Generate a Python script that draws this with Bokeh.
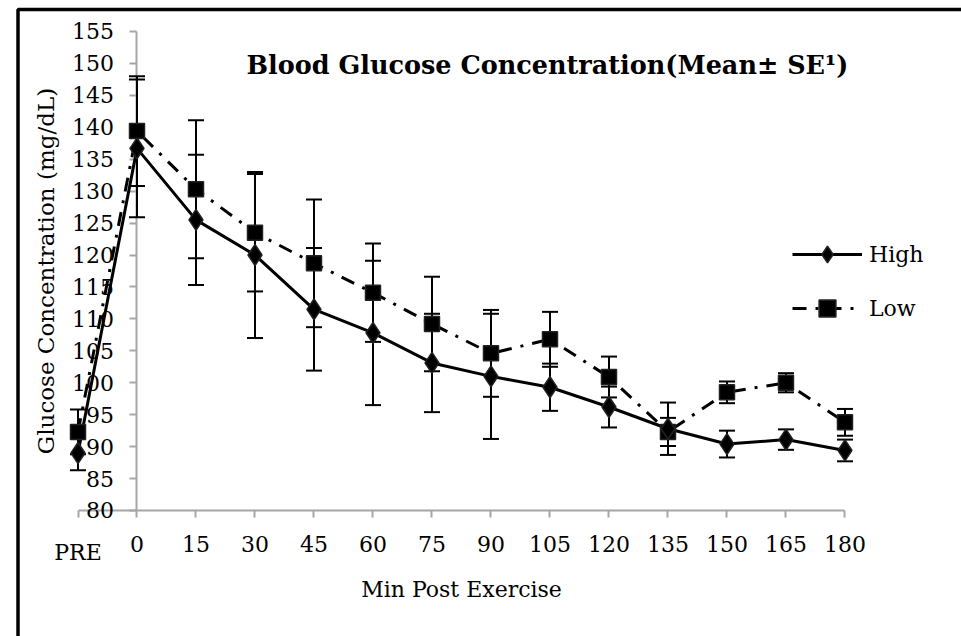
from bokeh.plotting import figure
from bokeh.models import (Range1d, FixedTicker, Whisker, TeeHead, ColumnDataSource,
                          Legend, LegendItem, Label, BoxAnnotation)
from bokeh.embed import file_html
from bokeh.resources import INLINE

# ---- data ----
categories = ["PRE", "0", "15", "30", "45", "60", "75", "90", "105", "120",
              "135", "150", "165", "180"]
high_mean = [89.0, 136.7, 125.5, 120.0, 111.5, 107.8, 103.1, 101.0, 99.3, 96.2,
             92.8, 90.4, 91.1, 89.4]
high_se = [2.7, 10.8, 10.2, 13.0, 9.6, 11.3, 7.7, 9.8, 3.7, 3.2,
           4.1, 2.1, 1.6, 1.7]
low_mean = [92.3, 139.4, 130.3, 123.5, 118.7, 114.1, 109.2, 104.6, 106.8, 100.9,
            92.3, 98.5, 100.0, 93.8]
low_se = [3.5, 8.6, 10.8, 9.2, 10.0, 7.7, 7.4, 6.8, 4.3, 3.2,
          2.2, 1.7, 1.5, 2.1]
y_ticks = list(range(80, 156, 5))

title_text = "Blood Glucose Concentration(Mean\u00b1 SE\u00b9)"
x_title = "Min Post Exercise"
y_title = "Glucose Concentration (mg/dL)"

FONT = "DejaVu Serif"
AXIS_GRAY = "#a6a6a6"

pos = list(range(len(categories)))

p = figure(width=961, height=636, output_backend="svg", toolbar_location=None,
           x_range=Range1d(-1.3136, 14.975), y_range=Range1d(60.27, 159.85),
           min_border=0)
p.outline_line_color = None
p.grid.visible = False
p.background_fill_color = "white"
p.border_fill_color = "white"

# black frame of the embedded chart object (left and top edges visible)
p.add_layout(BoxAnnotation(left=-1.0169, right=40, top=158.44, bottom=20,
                           fill_alpha=0, line_color="black", line_alpha=1,
                           line_width=3.5))

src_h = ColumnDataSource(dict(x=pos, y=high_mean,
                              lower=[m - s for m, s in zip(high_mean, high_se)],
                              upper=[m + s for m, s in zip(high_mean, high_se)]))
src_l = ColumnDataSource(dict(x=pos, y=low_mean,
                              lower=[m - s for m, s in zip(low_mean, low_se)],
                              upper=[m + s for m, s in zip(low_mean, low_se)]))

for src in (src_h, src_l):
    w = Whisker(base="x", lower="lower", upper="upper", source=src,
                line_width=2, line_color="black",
                upper_head=TeeHead(size=16, line_width=2, line_color="black"),
                lower_head=TeeHead(size=16, line_width=2, line_color="black"))
    w.level = "underlay"
    p.add_layout(w)

line_l = p.line("x", "y", source=src_l, line_width=3, line_color="black",
                line_dash="14 9 3 9")
line_h = p.line("x", "y", source=src_h, line_width=3, line_color="black")
sc_l = p.scatter("x", "y", source=src_l, marker="square", size=15,
                 fill_color="black", line_color="#222222", line_width=1.5)
sc_h = p.scatter("x", "y", source=src_h, marker="diamond", size=21,
                 fill_color="black", line_color="#222222", line_width=1.5)

# x axis (drawn at y = 80)
xa = p.xaxis[0]
xa.fixed_location = 80
xa.ticker = FixedTicker(ticks=pos)
overrides = {i: c for i, c in enumerate(categories)}
overrides[0] = ""
xa.major_label_overrides = overrides
xa.bounds = (0, len(categories) - 1)
xa.axis_label = x_title
xa.axis_line_color = AXIS_GRAY
xa.axis_line_width = 2
xa.major_tick_line_color = AXIS_GRAY
xa.major_tick_line_width = 2
xa.major_tick_out = 7
xa.major_tick_in = 0
xa.minor_tick_line_color = None
xa.major_label_text_font = FONT
xa.major_label_text_font_size = "22px"
xa.major_label_text_color = "black"
xa.major_label_standoff = 19
xa.axis_label_text_font = FONT
xa.axis_label_text_font_size = "22px"
xa.axis_label_text_font_style = "normal"
xa.axis_label_text_color = "black"
xa.axis_label_standoff = 21
xa.level = "underlay"

# y axis (crosses at the "0" category)
ya = p.yaxis[0]
ya.fixed_location = 1
ya.ticker = FixedTicker(ticks=y_ticks)
ya.bounds = (80, 155)
ya.axis_label = y_title
ya.axis_line_color = AXIS_GRAY
ya.axis_line_width = 2
ya.major_tick_line_color = AXIS_GRAY
ya.major_tick_line_width = 2
ya.major_tick_out = 7
ya.major_tick_in = 0
ya.minor_tick_line_color = None
ya.major_label_text_font = FONT
ya.major_label_text_font_size = "22px"
ya.major_label_text_color = "black"
ya.major_label_standoff = 16
ya.axis_label_text_font = FONT
ya.axis_label_text_font_size = "23px"
ya.axis_label_text_font_style = "normal"
ya.axis_label_text_color = "black"
ya.axis_label_standoff = 10
ya.level = "underlay"

# "PRE" category label sits a little lower than the others
p.add_layout(Label(x=0, y=73.4, text=categories[0], text_align="center",
                   text_baseline="middle", text_font=FONT,
                   text_font_size="22px", text_color="black"))

# title inside plot area
p.add_layout(Label(x=2.856, y=149.8, text=title_text, text_align="left",
                   text_baseline="alphabetic", text_font=FONT,
                   text_font_size="25.5px", text_font_style="bold",
                   text_color="black"))

legend = Legend(items=[LegendItem(label="High", renderers=[line_h, sc_h]),
                       LegendItem(label="Low", renderers=[line_l, sc_l])],
                location=(792, 307), glyph_width=70, glyph_height=42,
                label_height=42, spacing=12, label_standoff=7, padding=10,
                margin=0, border_line_color=None, background_fill_alpha=0,
                label_text_font=FONT, label_text_font_size="22px",
                label_text_color="black")
p.add_layout(legend)

open("out.html", "w").write(file_html(p, INLINE))
